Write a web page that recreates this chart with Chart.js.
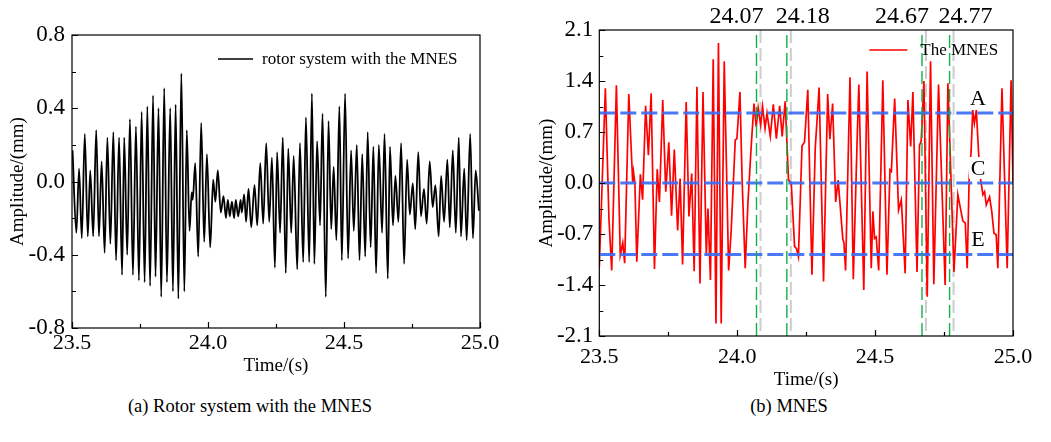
<!DOCTYPE html>
<html>
<head>
<meta charset="utf-8">
<script src="https://cdn.jsdelivr.net/npm/chart.js@4.4.0/dist/chart.umd.min.js"></script>
<style>
  body { margin: 0; background: #fff; width: 1051px; height: 442px; overflow: hidden; position: relative;
         font-family: "Liberation Serif", "Times New Roman", serif; }
  canvas { position: absolute; top: 0; }
  #rotorChart { left: 0; }
  #mnesChart { left: 520px; }
  .caption { position: absolute; top: 396px; font-size: 18.5px; line-height: 20px; white-space: nowrap;
             transform: translateX(-50%); color: #000; }
</style>
</head>
<body>
<canvas id="rotorChart" width="520" height="380" style="width:520px;height:380px"></canvas>
<canvas id="mnesChart" width="531" height="395" style="width:531px;height:395px"></canvas>
<div class="caption" style="left:250px">(a) Rotor system with the MNES</div>
<div class="caption" style="left:789px">(b) MNES</div>
<script>
// ---- shared axis ticks ----
const xTicks = [23.5, 24.0, 24.5, 25.0];
const xMinor = [23.75, 24.25, 24.75];

// ---- (a) rotor system with the MNES: peaks / troughs of the response ----
const yTicksA = [-0.8, -0.4, 0, 0.4, 0.8];
const yMinorA = [-0.6, -0.2, 0.2, 0.6];
const timeA = [
  23.502, 23.516, 23.526, 23.536, 23.547, 23.558, 23.567, 23.578, 23.589, 23.599,
  23.609, 23.620, 23.630, 23.641, 23.652, 23.662, 23.673, 23.684, 23.692, 23.703,
  23.713, 23.724, 23.735, 23.746, 23.756, 23.767, 23.777, 23.787, 23.798, 23.807,
  23.818, 23.828, 23.839, 23.849, 23.861, 23.871, 23.881, 23.891, 23.902, 23.913,
  23.922, 23.932, 23.940, 23.944, 23.953, 23.964, 23.975, 23.986, 23.996, 24.008,
  24.019, 24.027, 24.036, 24.047, 24.057, 24.066, 24.073, 24.080, 24.088, 24.096,
  24.102, 24.111, 24.120, 24.124, 24.133, 24.140, 24.149, 24.159, 24.171, 24.181,
  24.192, 24.203, 24.214, 24.225, 24.235, 24.246, 24.254, 24.265, 24.275, 24.286,
  24.295, 24.306, 24.315, 24.328, 24.338, 24.350, 24.360, 24.372, 24.382, 24.391,
  24.401, 24.412, 24.421, 24.433, 24.443, 24.453, 24.462, 24.472, 24.483, 24.492,
  24.504, 24.515, 24.526, 24.536, 24.547, 24.557, 24.567, 24.578, 24.587, 24.598,
  24.608, 24.618, 24.628, 24.640, 24.649, 24.661, 24.669, 24.680, 24.689, 24.700,
  24.710, 24.721, 24.732, 24.742, 24.753, 24.762, 24.773, 24.783, 24.794, 24.804,
  24.815, 24.826, 24.836, 24.848, 24.857, 24.868, 24.880, 24.889, 24.900, 24.911,
  24.922, 24.930, 24.942, 24.951, 24.964, 24.974, 24.984, 24.996
];
const ampA = [
  0.17, -0.28, 0.07, -0.31, 0.26, -0.30, 0.06, -0.30, 0.28, -0.30,
  0.11, -0.39, 0.24, -0.34, 0.27, -0.43, 0.24, -0.51, 0.24, -0.40,
  0.34, -0.51, 0.30, -0.54, 0.38, -0.55, 0.41, -0.57, 0.47, -0.52,
  0.40, -0.63, 0.51, -0.55, 0.40, -0.60, 0.42, -0.64, 0.59, -0.60,
  0.28, -0.27, -0.06, -0.10, 0.10, -0.41, 0.32, -0.33, 0.15, -0.36,
  0.01, -0.11, 0.06, -0.17, -0.08, -0.20, -0.10, -0.19, -0.11, -0.20,
  -0.10, -0.19, -0.10, -0.17, -0.07, -0.22, -0.04, -0.25, -0.02, -0.24,
  0.10, -0.23, 0.21, -0.22, 0.13, -0.47, 0.16, -0.28, 0.24, -0.50,
  0.18, -0.28, 0.14, -0.48, 0.21, -0.44, 0.35, -0.44, 0.48, -0.45,
  0.22, -0.24, 0.37, -0.63, 0.33, -0.26, 0.08, -0.32, 0.41, -0.43,
  0.48, -0.42, 0.17, -0.27, 0.20, -0.43, 0.15, -0.41, 0.27, -0.36,
  0.19, -0.50, 0.20, -0.28, 0.26, -0.53, 0.19, -0.24, 0.03, -0.22,
  0.21, -0.45, 0.12, -0.18, -0.01, -0.26, 0.16, -0.19, -0.04, -0.23,
  0.11, -0.14, -0.02, -0.30, 0.03, -0.22, 0.12, -0.25, 0.17, -0.28,
  0.24, -0.30, 0.07, -0.32, 0.26, -0.31, 0.06, -0.16
];

// ---- (b) MNES response ----
const yTicksB = [-2.1, -1.4, -0.7, 0, 0.7, 1.4, 2.1];
const yMinorB = [-1.75, -1.05, -0.35, 0.35, 1.05, 1.75];
const timeB = [
  23.500, 23.522, 23.535, 23.545, 23.562, 23.576, 23.585, 23.592, 23.607, 23.621,
  23.624, 23.629, 23.636, 23.649, 23.657, 23.668, 23.678, 23.688, 23.700, 23.710,
  23.718, 23.730, 23.741, 23.752, 23.762, 23.772, 23.784, 23.793, 23.802, 23.815,
  23.825, 23.835, 23.844, 23.854, 23.865, 23.876, 23.888, 23.894, 23.903, 23.913,
  23.923, 23.932, 23.942, 23.953, 23.969, 23.978, 23.993, 23.999, 24.010, 24.018,
  24.029, 24.039, 24.051, 24.061, 24.069, 24.076, 24.085, 24.092, 24.101, 24.108,
  24.120, 24.131, 24.142, 24.154, 24.163, 24.174, 24.186, 24.196, 24.208, 24.215,
  24.222, 24.235, 24.244, 24.256, 24.271, 24.283, 24.297, 24.313, 24.328, 24.336,
  24.346, 24.357, 24.366, 24.383, 24.387, 24.393, 24.409, 24.421, 24.435, 24.441,
  24.459, 24.471, 24.486, 24.492, 24.498, 24.504, 24.513, 24.528, 24.543, 24.554,
  24.559, 24.571, 24.585, 24.595, 24.609, 24.619, 24.629, 24.637, 24.652, 24.661,
  24.667, 24.677, 24.689, 24.701, 24.713, 24.730, 24.754, 24.764, 24.786, 24.800,
  24.818, 24.827, 24.834, 24.841, 24.848, 24.854, 24.860, 24.867, 24.875, 24.882,
  24.891, 24.897, 24.903, 24.915, 24.923, 24.931, 24.939, 24.945, 24.960, 24.979,
  24.993, 25.000
];
const ampB = [
  -1.16, 1.30, -0.49, -1.20, 1.34, -0.99, -0.82, -1.10, 1.22, 0.01,
  0.15, 0.00, -1.08, 0.12, -0.23, 1.06, 0.38, 1.23, -1.18, 0.19,
  -0.26, 1.14, -0.12, 0.56, -0.45, 0.46, -0.65, 0.06, -1.12, 1.11,
  -0.46, 0.13, -1.21, 1.32, -1.38, 1.25, -0.99, -0.35, -1.33, 1.70,
  -1.93, 1.92, -1.93, 1.67, -1.20, -0.67, 0.59, 0.61, 1.25, 0.02,
  -1.17, -0.26, 0.52, 1.09, 0.77, 1.03, 0.80, 1.05, 0.75, 0.96,
  0.64, 1.08, 0.61, 1.06, 0.64, 1.12, 0.04, 0.00, -0.87, -0.90,
  -1.01, 0.51, 0.56, 1.28, -1.26, 0.48, 1.31, -1.35, 1.22, 0.60,
  1.09, -0.26, 0.04, -0.77, -0.82, -1.20, 1.45, -1.32, 0.61, 1.35,
  -1.47, 1.53, -1.17, -0.39, -0.76, -0.74, -1.20, 1.41, -1.26, 0.18,
  0.16, 1.16, -0.37, -0.23, -1.24, 1.14, 0.50, 1.25, -1.22, 0.52,
  0.57, 1.40, -1.56, 1.67, -1.39, 1.35, -1.40, 1.37, -1.22, -0.16,
  -0.52, -0.55, -1.17, 0.06, 0.43, 1.00, 0.82, 1.00, 0.43, 0.06,
  -0.16, -0.12, -0.30, -0.19, -0.39, -0.69, -0.71, -1.17, 1.30, -1.17,
  1.41, 0.00
];
const levels = [0.96, 0, -0.98];
const levelNames = ['A', 'C', 'E'];
const markTimes = [24.07, 24.18, 24.67, 24.77];

const FONT = '"Liberation Serif", "Times New Roman", serif';
const fmt1 = v => (Math.abs(v) < 1e-9 ? 0 : v).toFixed(1);
const pts = (xs, ys) => xs.map((x, i) => ({ x: x, y: ys[i] }));

// box around the plot with inward major/minor tick marks
const frameTicks = {
  id: 'frameTicks',
  afterDatasetsDraw(chart, args, o) {
    const { ctx, chartArea: a, scales: { x, y } } = chart;
    ctx.save();
    ctx.strokeStyle = '#000';
    ctx.lineWidth = 1.2;
    ctx.strokeRect(a.left, a.top, a.right - a.left, a.bottom - a.top);
    ctx.beginPath();
    const xt = (vals, len) => vals.forEach(v => {
      const px = Math.round(x.getPixelForValue(v)) + 0.5;
      ctx.moveTo(px, a.bottom); ctx.lineTo(px, a.bottom - len);
    });
    const yt = (vals, len) => vals.forEach(v => {
      const py = Math.round(y.getPixelForValue(v)) + 0.5;
      ctx.moveTo(a.left, py); ctx.lineTo(a.left + len, py);
    });
    xt(o.xMajor, 6); xt(o.xMinor, 4);
    yt(o.yMajor, 6); yt(o.yMinor, 4);
    ctx.stroke();
    ctx.restore();
  }
};

// single-entry legend inside the plot
const lineLegend = {
  id: 'lineLegend',
  afterDatasetsDraw(chart, args, o) {
    const { ctx, chartArea: a } = chart;
    ctx.save();
    ctx.strokeStyle = o.color;
    ctx.lineWidth = 1.5;
    ctx.beginPath();
    ctx.moveTo(a.left + o.x0, a.top + o.y);
    ctx.lineTo(a.left + o.x1, a.top + o.y);
    ctx.stroke();
    ctx.fillStyle = '#000';
    ctx.font = '17px ' + FONT;
    ctx.textBaseline = 'middle';
    ctx.fillText(o.text, a.left + o.tx, a.top + o.y + 1);
    ctx.restore();
  }
};

// time markers above the frame, grey twin lines and the A / C / E level names
const mnesNotes = {
  id: 'mnesNotes',
  beforeDatasetsDraw(chart) {
    const { ctx, chartArea: a, scales: { x } } = chart;
    ctx.save();
    ctx.strokeStyle = 'rgba(200,200,200,0.9)';
    ctx.lineWidth = 2;
    ctx.setLineDash([13, 5]);
    markTimes.forEach(t => {
      const px = x.getPixelForValue(t) + 4;
      ctx.beginPath();
      ctx.moveTo(px, a.top); ctx.lineTo(px, a.bottom);
      ctx.stroke();
    });
    ctx.restore();
  },
  afterDatasetsDraw(chart, args, o) {
    const { ctx, chartArea: a, scales: { x, y } } = chart;
    ctx.save();
    ctx.fillStyle = '#000';
    ctx.font = '24px ' + FONT;
    ctx.textBaseline = 'middle';
    markTimes.forEach((t, i) => {
      const px = x.getPixelForValue(t);
      if (i % 2 === 0) { ctx.textAlign = 'right'; ctx.fillText(t.toFixed(2), px + 7, a.top - 13); }
      else { ctx.textAlign = 'left'; ctx.fillText(t.toFixed(2), px - 11, a.top - 13); }
    });
    ctx.textAlign = 'center';
    ctx.font = '22px ' + FONT;
    const lx = x.getPixelForValue(o.labelTime);
    levels.forEach((v, i) => {
      const ly = y.getPixelForValue(v) - 15;
      ctx.fillStyle = '#fff';
      ctx.fillRect(lx - 9, ly - 11, 18, 22);
      ctx.fillStyle = '#000';
      ctx.fillText(levelNames[i], lx, ly + 1);
    });
    ctx.restore();
  }
};

function axes(yTicks, yWidth, yTitlePad, yPad, xHeight, xPad, xTitlePad, yMin, yMax) {
  return {
    x: {
      type: 'linear', min: xTicks[0], max: xTicks[xTicks.length - 1],
      afterBuildTicks: s => { s.ticks = xTicks.map(v => ({ value: v })); },
      afterFit: s => { s.height = xHeight; },
      grid: { display: false, drawTicks: false }, border: { display: false },
      ticks: { color: '#000', font: { family: FONT, size: 22 }, padding: xPad, maxRotation: 0, autoSkip: false, callback: fmt1 },
      title: { display: true, text: 'Time/(s)', color: '#000', font: { family: FONT, size: 19 }, padding: { top: 0, bottom: xTitlePad } }
    },
    y: {
      type: 'linear', min: yMin, max: yMax,
      afterBuildTicks: s => { s.ticks = yTicks.map(v => ({ value: v })); },
      afterFit: s => { s.width = yWidth; },
      grid: { display: false, drawTicks: false }, border: { display: false },
      ticks: { color: '#000', font: { family: FONT, size: 23 }, padding: yPad, autoSkip: false, callback: fmt1 },
      title: { display: true, text: 'Amplitude/(mm)', color: '#000', font: { family: FONT, size: 19 }, padding: { top: yTitlePad, bottom: 0 } }
    }
  };
}

new Chart(document.getElementById('rotorChart'), {
  type: 'line',
  data: {
    datasets: [{
      data: pts(timeA, ampA),
      borderColor: '#000', borderWidth: 1.8,
      pointRadius: 0, cubicInterpolationMode: 'monotone'
    }]
  },
  options: {
    responsive: false, animation: false, events: [],
    layout: { padding: { left: 0, right: 40, top: 35, bottom: 0 } },
    scales: axes(yTicksA, 72, 6.6, 7, 52, 2, 2.6, -0.8, 0.8),
    plugins: {
      legend: { display: false }, tooltip: { enabled: false },
      frameTicks: { xMajor: xTicks, xMinor: xMinor, yMajor: yTicksA, yMinor: yMinorA },
      lineLegend: { text: 'rotor system with the MNES', color: '#000', x0: 146, x1: 181, y: 24, tx: 190 }
    }
  },
  plugins: [frameTicks, lineLegend]
});

// first datasets are drawn on top
const markSets = markTimes.map(t => ({
  data: [{ x: t, y: yTicksB[0] }, { x: t, y: yTicksB[yTicksB.length - 1] }],
  borderColor: '#10b04a', borderWidth: 1.4, borderDash: [13, 5], pointRadius: 0
}));
const levelSets = levels.map(v => ({
  data: [{ x: xTicks[0], y: v }, { x: xTicks[xTicks.length - 1], y: v }],
  borderColor: 'rgba(60,108,245,0.92)', borderWidth: 3, borderDash: [16, 5], pointRadius: 0
}));

new Chart(document.getElementById('mnesChart'), {
  type: 'line',
  data: {
    datasets: [
      ...markSets,
      ...levelSets,
      { data: pts(timeB, ampB), borderColor: '#ff0000', borderWidth: 1.7, pointRadius: 0, tension: 0 }
    ]
  },
  options: {
    responsive: false, animation: false, events: [],
    layout: { padding: { left: 0, right: 38, top: 30, bottom: 0 } },
    scales: axes(yTicksB, 79.3, 15.6, 6, 59, 8.4, 3.6, -2.1, 2.1),
    plugins: {
      legend: { display: false }, tooltip: { enabled: false },
      frameTicks: { xMajor: xTicks, xMinor: xMinor, yMajor: yTicksB, yMinor: yMinorB },
      lineLegend: { text: 'The MNES', color: '#ff0000', x0: 270, x1: 308, y: 20, tx: 321 },
      mnesNotes: { labelTime: 24.873 }
    }
  },
  plugins: [mnesNotes, frameTicks, lineLegend]
});
</script>
</body>
</html>
